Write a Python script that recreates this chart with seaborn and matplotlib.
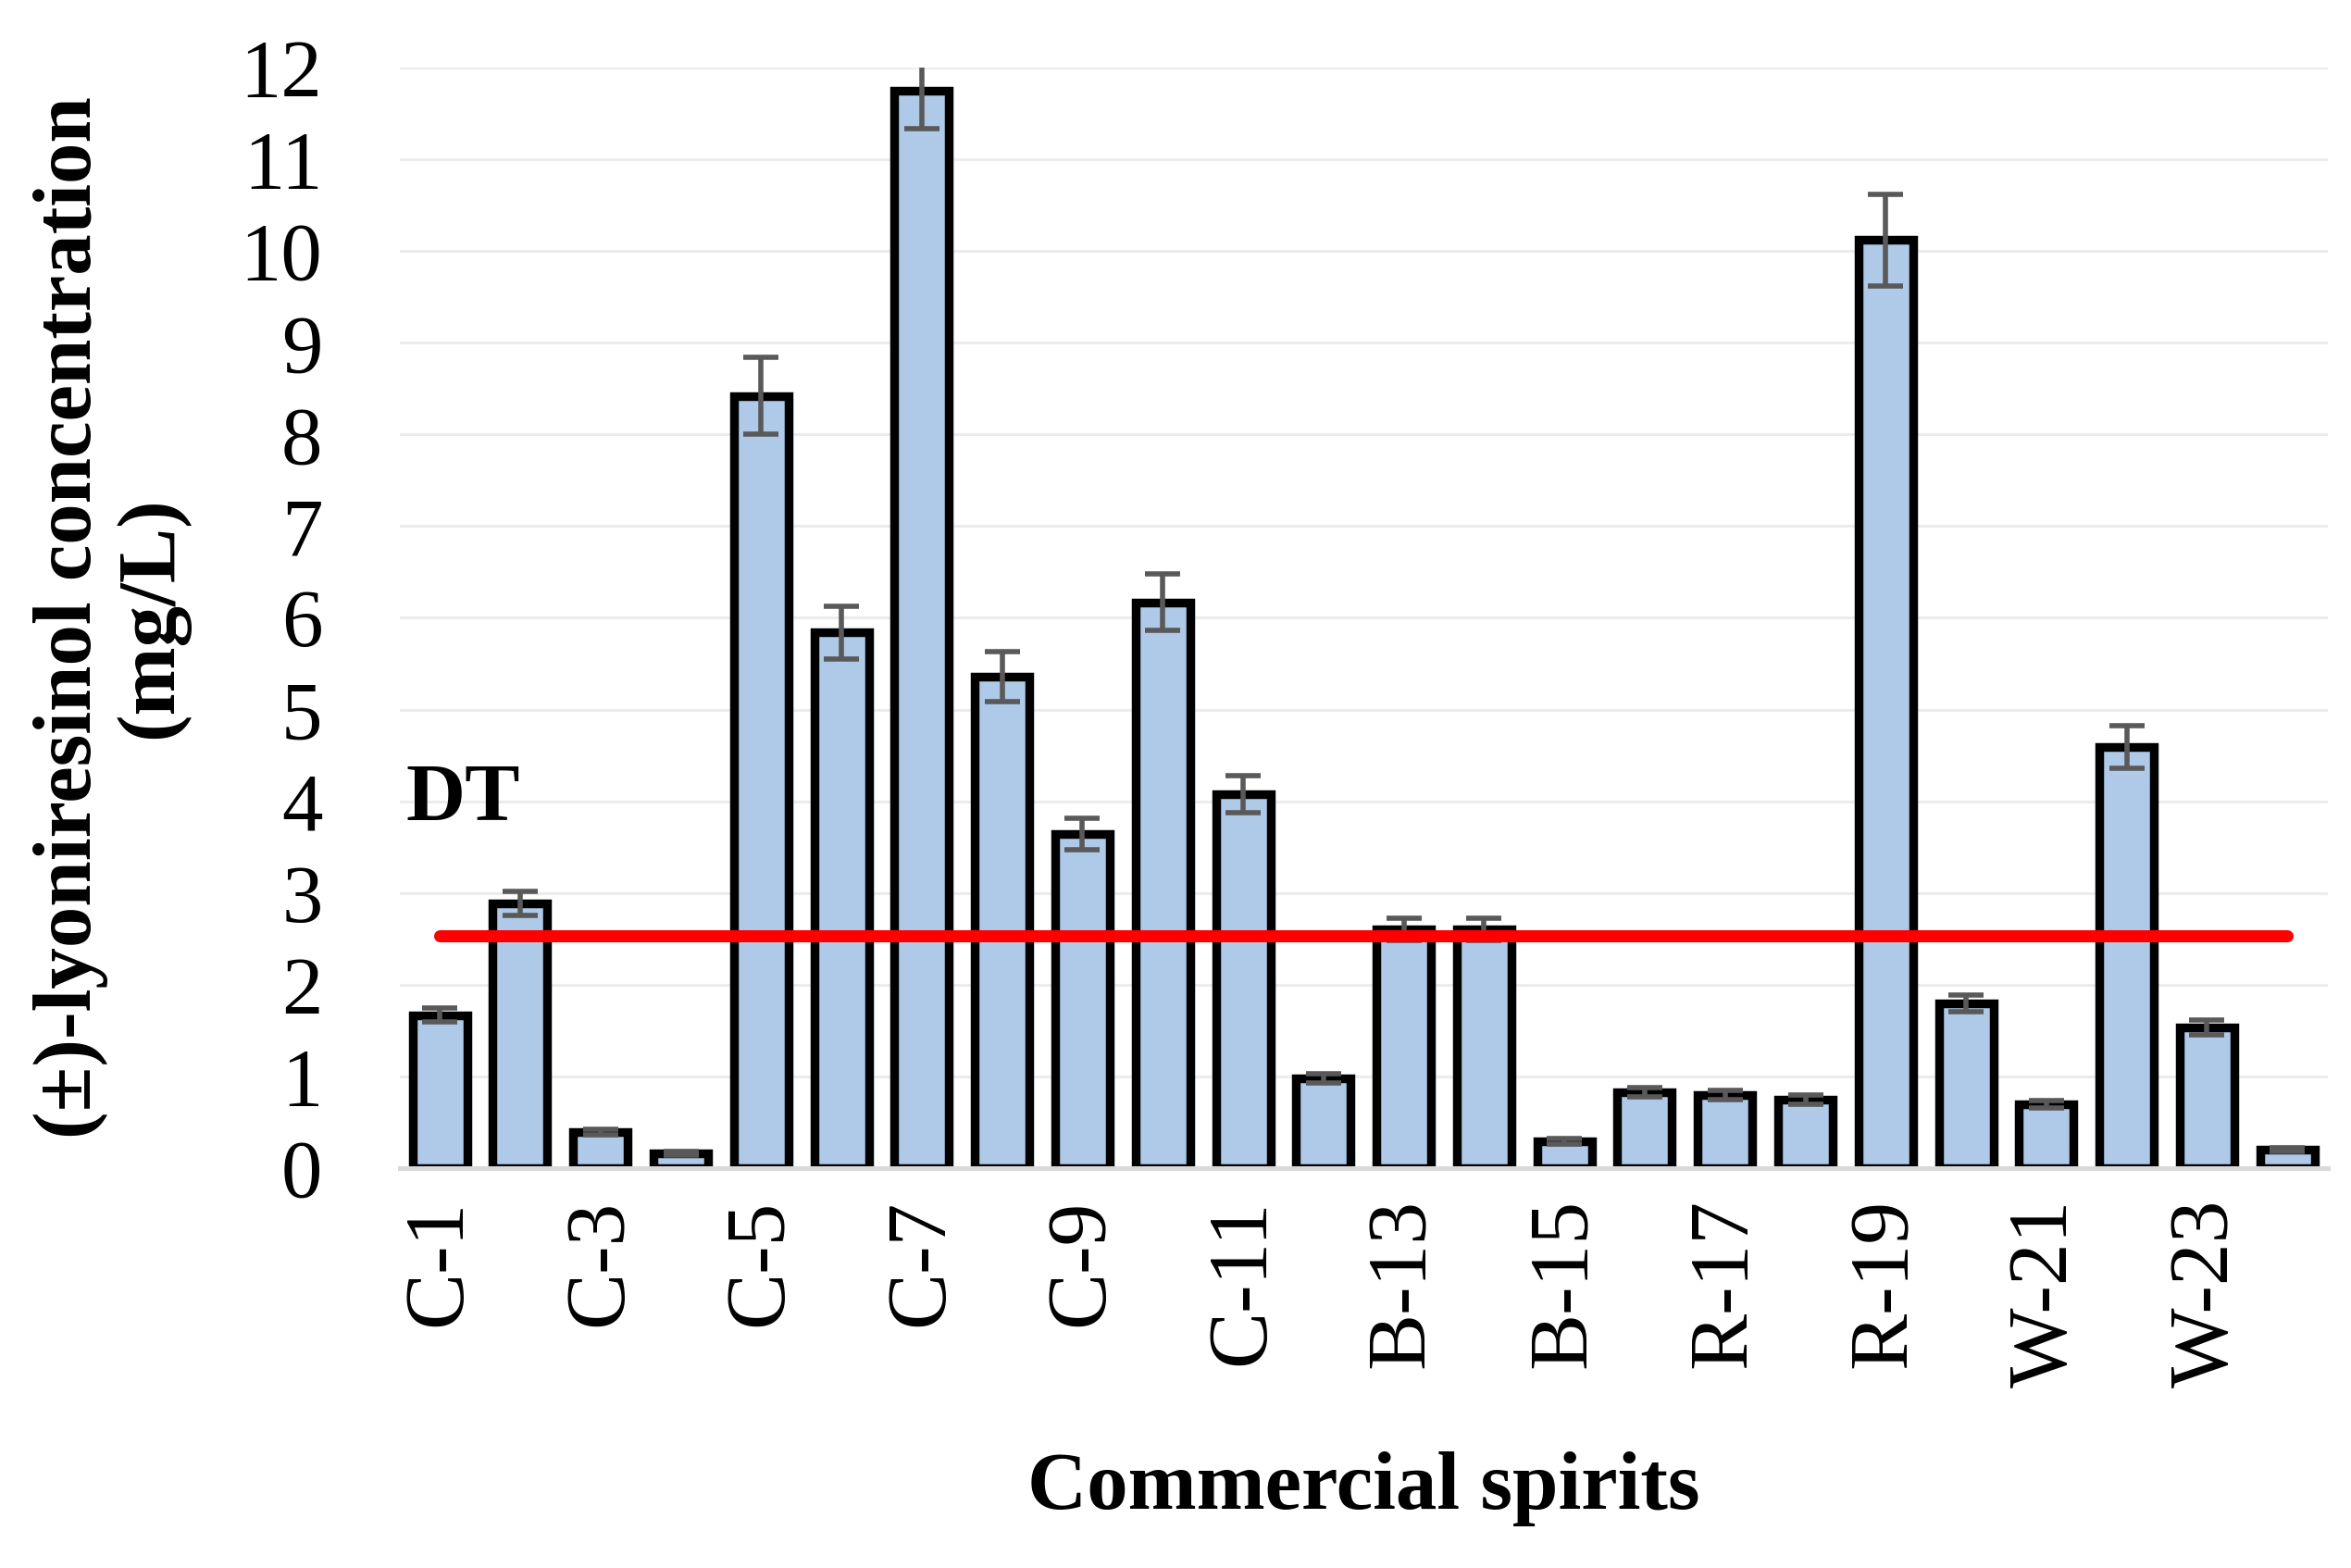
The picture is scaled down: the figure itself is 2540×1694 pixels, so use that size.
import numpy as np
import pandas as pd
import seaborn as sns
import matplotlib.pyplot as plt

# sample codes and measured concentrations (mg/L)
samples = ['C-1', 'C-2', 'C-3', 'C-4', 'C-5', 'C-6', 'C-7', 'C-8', 'C-9', 'C-10',
           'C-11', 'C-12', 'B-13', 'B-14', 'B-15', 'R-16', 'R-17', 'R-18', 'R-19',
           'W-20', 'W-21', 'W-22', 'W-23', 'W-24']
conc = [1.67, 2.89, 0.39, 0.16, 8.42, 5.84, 11.75, 5.36, 3.64, 6.17,
        4.08, 0.98, 2.60, 2.60, 0.29, 0.83, 0.80, 0.75, 10.12,
        1.80, 0.70, 4.59, 1.53, 0.20]
sd = [0.08, 0.13, 0.03, 0.02, 0.42, 0.29, 0.42, 0.27, 0.17, 0.31,
      0.20, 0.05, 0.12, 0.12, 0.03, 0.05, 0.05, 0.05, 0.50,
      0.09, 0.04, 0.23, 0.08, 0.02]
dt_level = 2.53
shown_labels = ['C-1', 'C-3', 'C-5', 'C-7', 'C-9', 'C-11', 'B-13', 'B-15',
                'R-17', 'R-19', 'W-21', 'W-23']

df = pd.DataFrame({'sample': samples, 'conc': conc, 'sd': sd})

sns.set_style('white')
plt.rcParams['font.family'] = ['Liberation Serif', 'DejaVu Serif']
for key in ['text.color', 'axes.labelcolor', 'xtick.color', 'ytick.color']:
    plt.rcParams[key] = 'black'

fig = plt.figure(figsize=(12.7, 8.47), dpi=200)
ax = fig.add_axes([0.17, 0.255, 0.82, 0.702])

sns.barplot(data=df, x='sample', y='conc', ax=ax, color='#afc9e8',
            edgecolor='black', linewidth=3.4, width=0.68, errorbar=None,
            saturation=1)
ax.errorbar(np.arange(len(samples)), df['conc'], yerr=df['sd'], fmt='none',
            ecolor='#595959', elinewidth=2.0, capsize=7, capthick=2.0, zorder=3)

# detection threshold line
ax.plot([0, len(samples) - 1], [dt_level, dt_level], color='#ff0000',
        linewidth=4.7, solid_capstyle='round', zorder=4)
ax.text(-0.42, 3.6, 'DT', fontsize=32, fontweight='bold', ha='left', va='bottom')

ax.set_xlim(-0.5, len(samples) - 0.5)
ax.set_ylim(0, 12)
ax.set_yticks(range(0, 13))
ax.yaxis.grid(True, color='#ececec', linewidth=1.1)
ax.set_axisbelow(True)

ax.set_xticks([samples.index(s) for s in shown_labels])
ax.set_xticklabels(shown_labels, rotation=90)
ax.tick_params(axis='x', labelsize=33, length=0, pad=12)
ax.tick_params(axis='y', labelsize=32, length=0, pad=30)

for side in ['left', 'right', 'top']:
    ax.spines[side].set_visible(False)
ax.spines['bottom'].set_color('#d9d9d9')
ax.spines['bottom'].set_linewidth(1.8)

ax.set_xlabel('Commercial spirits', fontsize=32, fontweight='bold', labelpad=25)
ax.set_ylabel('(±)-lyoniresinol concentration\n(mg/L)', fontsize=32,
              fontweight='bold', labelpad=20, linespacing=1.1)

fig.savefig('out.png', dpi=200)
